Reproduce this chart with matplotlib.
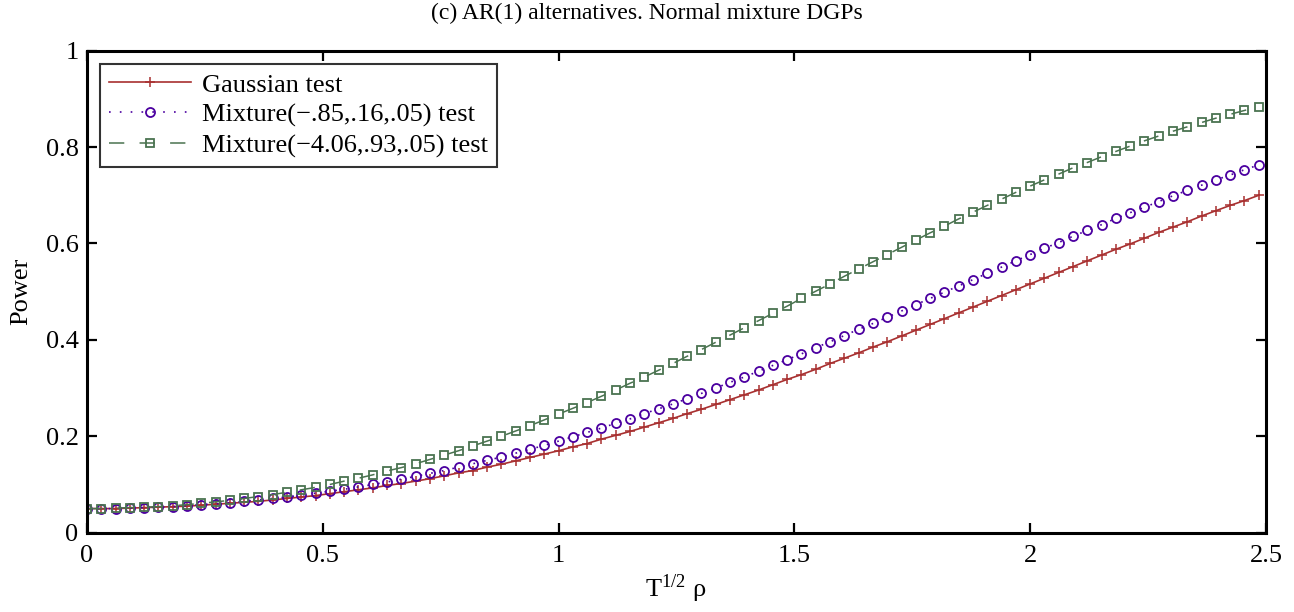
import numpy as np
import matplotlib
matplotlib.use("Agg")
import matplotlib.pyplot as plt

# grid of T^(1/2) rho values (83 evenly spaced points)
x_grid = np.arange(83) * 0.0303

# power curves
gauss = [0.05, 0.05, 0.05, 0.051, 0.052, 0.053, 0.054, 0.055, 0.057, 0.059,
         0.061, 0.063, 0.065, 0.068, 0.071, 0.074, 0.077, 0.081, 0.085, 0.089,
         0.093, 0.098, 0.102, 0.107, 0.112, 0.118, 0.124, 0.129, 0.136, 0.142,
         0.149, 0.156, 0.163, 0.170, 0.178, 0.185, 0.194, 0.202, 0.210, 0.219,
         0.228, 0.237, 0.247, 0.256, 0.266, 0.276, 0.286, 0.296, 0.307, 0.318,
         0.328, 0.339, 0.351, 0.362, 0.373, 0.385, 0.396, 0.408, 0.420, 0.432,
         0.444, 0.456, 0.468, 0.480, 0.492, 0.504, 0.516, 0.528, 0.540, 0.552,
         0.564, 0.576, 0.588, 0.599, 0.611, 0.623, 0.634, 0.645, 0.657, 0.668,
         0.679, 0.689, 0.700]
mix1 = [0.050, 0.050, 0.050, 0.051, 0.052, 0.053, 0.054, 0.056, 0.058, 0.060,
        0.062, 0.065, 0.068, 0.071, 0.074, 0.078, 0.082, 0.086, 0.090, 0.095,
        0.100, 0.105, 0.111, 0.117, 0.123, 0.129, 0.136, 0.143, 0.150, 0.157,
        0.165, 0.173, 0.181, 0.190, 0.199, 0.208, 0.217, 0.227, 0.236, 0.247,
        0.257, 0.267, 0.278, 0.289, 0.300, 0.312, 0.323, 0.335, 0.347, 0.359,
        0.371, 0.384, 0.396, 0.409, 0.422, 0.434, 0.447, 0.460, 0.473, 0.486,
        0.499, 0.512, 0.525, 0.538, 0.551, 0.564, 0.577, 0.590, 0.602, 0.615,
        0.627, 0.639, 0.652, 0.664, 0.675, 0.687, 0.699, 0.710, 0.721, 0.732,
        0.742, 0.753, 0.763]
mix2 = [0.05, 0.05, 0.051, 0.052, 0.053, 0.054, 0.056, 0.058, 0.061, 0.064,
        0.067, 0.071, 0.075, 0.079, 0.084, 0.089, 0.094, 0.100, 0.107, 0.113,
        0.120, 0.128, 0.135, 0.143, 0.152, 0.161, 0.170, 0.180, 0.190, 0.200,
        0.211, 0.222, 0.234, 0.246, 0.258, 0.270, 0.283, 0.296, 0.310, 0.323,
        0.337, 0.351, 0.366, 0.380, 0.395, 0.410, 0.425, 0.440, 0.455, 0.470,
        0.486, 0.501, 0.516, 0.532, 0.547, 0.562, 0.577, 0.592, 0.607, 0.622,
        0.636, 0.651, 0.665, 0.679, 0.692, 0.706, 0.719, 0.732, 0.744, 0.757,
        0.768, 0.780, 0.791, 0.802, 0.813, 0.823, 0.833, 0.842, 0.851, 0.860,
        0.868, 0.876, 0.884]

x_ticks = [0, 0.5, 1, 1.5, 2, 2.5]
x_tick_labels = ["0", "0.5", "1", "1.5", "2", "2.5"]
y_ticks = [0, 0.2, 0.4, 0.6, 0.8, 1]
y_tick_labels = ["0", "0.2", "0.4", "0.6", "0.8", "1"]

plt.rcParams['font.family'] = ['Liberation Serif', 'DejaVu Serif']
plt.rcParams['mathtext.fontset'] = 'stix'
fs = 19

fig = plt.figure(figsize=(12.94, 6.12), dpi=100)
ax = fig.add_axes([0.0672, 0.1296, 0.9112, 0.7876])
ax.plot(x_grid, gauss, color="#a83030", marker="+", lw=1.2, ms=7, mew=1.1,
        label="Gaussian test")
ax.plot(x_grid, mix1, color="#4b00a0", linestyle=(0, (1, 5.5)), marker="o",
        mfc="none", lw=1.2, ms=6.5, mew=1.3, label="Mixture(\u2212.85,.16,.05) test")
ax.plot(x_grid, mix2, color="#4a7350", linestyle=(0, (10, 10)), marker="s",
        mfc="none", lw=1.1, ms=5.5, mew=1.3, label="Mixture(\u22124.06,.93,.05) test")

ax.set_xlim(0, 2.5)
ax.set_ylim(0, 1)
ax.set_xticks(x_ticks)
ax.set_xticklabels(x_tick_labels)
ax.set_yticks(y_ticks)
ax.set_yticklabels(y_tick_labels)
ax.tick_params(direction="in", top=True, right=True, length=7, width=1.6,
               labelsize=fs)
ax.tick_params(axis="x", pad=9)
ax.tick_params(axis="y", pad=6)
for s in ax.spines.values():
    s.set_linewidth(2.2)

ax.set_xlabel("T$^{\\mathregular{1/2}}$ \u03c1", fontsize=fs, labelpad=4)
ax.set_ylabel("Power", fontsize=fs, labelpad=10)
fig.text(0.5, 0.978, "(c) AR(1) alternatives. Normal mixture DGPs", fontsize=17,
         ha="center", va="center")

leg = ax.legend(loc="upper left", fontsize=fs, frameon=True, fancybox=False,
                edgecolor="black", handlelength=3.1, handletextpad=0.4,
                borderpad=0.35, labelspacing=0.25, borderaxespad=0.5)
leg.get_frame().set_linewidth(1.5)

fig.savefig("out.png")
